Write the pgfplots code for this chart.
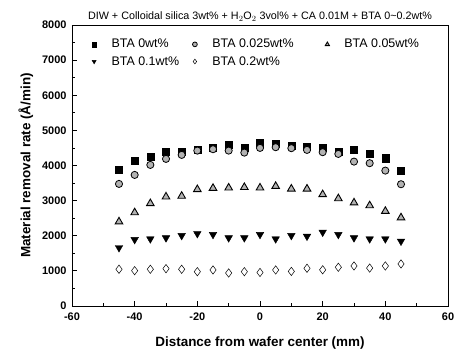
\documentclass[border=0pt]{standalone}
\usepackage{fontspec}
\setmainfont{Liberation Sans}
\usepackage{pgfplots}
\pgfplotsset{compat=1.18}
\begin{document}
\begin{tikzpicture}
\begin{axis}[
  name=ax,
  scale only axis, width=376bp, height=281bp,
  xmin=-60, xmax=60, ymin=0, ymax=8000,
  xtick={-60,-40,...,60}, minor xtick={-50,-30,...,50},
  ytick={0,1000,...,8000}, minor ytick={500,1500,...,7500},
  xtick pos=bottom, ytick pos=left, tick align=inside,
  major tick length=5pt, minor tick length=3pt,
  every tick/.style={black, line width=0.8pt},
  axis line style={line width=0.9pt},
  /pgf/number format/assume math mode=true,
  /pgf/number format/1000 sep={},
  tick label style={font=\fontsize{11}{13}\selectfont\bfseries},
  yticklabel style={xshift=-2pt},
  xticklabel style={yshift=-3pt},
  xlabel={\bfseries Distance from wafer center (mm)},
  ylabel={\bfseries Material removal rate (Å/min)},
  label style={font=\fontsize{13.5}{15}\selectfont},
  xlabel style={yshift=-10pt},
  ylabel style={yshift=2pt},
  title={DIW + Colloidal silica 3wt\% + H$_2$O$_2$ 3vol\% + CA 0.01M + BTA 0\textasciitilde0.2wt\%},
  title style={font=\fontsize{10.8}{12}\selectfont, yshift=-6pt},
  legend columns=3,
  legend style={at={(0.052,0.957)}, anchor=north west, draw=none, fill=none,
    inner sep=0pt,
    font=\fontsize{12.5}{14}\selectfont,
    /tikz/every odd column/.append style={column sep=13bp},
    row sep=3pt},
  legend cell align=left,
  legend image post style={mark size=2.4pt},
]
\addplot[only marks, mark=square*, mark size=3.6pt, black, fill=black] coordinates {
(-45,3875)(-40,4131)(-35,4254)(-30,4387)(-25,4396)(-20,4444)(-15,4501)(-10,4587)(-5,4510)(0,4644)
(5,4615)(10,4567)(15,4538)(20,4501)(25,4396)(30,4444)(35,4330)(40,4208)(45,3855)};
\addlegendentry{\makebox[79bp][l]{BTA 0wt\%}}
\addplot[only marks, mark=*, mark size=3.6pt, black, mark options={fill=gray!60, line width=0.8pt}] coordinates {
(-45,3476)(-40,3732)(-35,4017)(-30,4188)(-25,4302)(-20,4424)(-15,4464)(-10,4424)(-5,4367)(0,4501)
(5,4521)(10,4493)(15,4444)(20,4379)(25,4330)(30,4111)(35,4066)(40,3855)(45,3467)};
\addlegendentry{\makebox[111bp][l]{BTA 0.025wt\%}}
\addplot[only marks, mark=triangle*, mark size=4.4pt, black, mark options={fill=gray!60, line width=0.9pt}] coordinates {
(-45,2400)(-40,2660)(-35,2920)(-30,3110)(-25,3130)(-20,3320)(-15,3355)(-10,3365)(-5,3380)(0,3365)
(5,3410)(10,3335)(15,3335)(20,3175)(25,3060)(30,2940)(35,2860)(40,2700)(45,2515)};
\addlegendentry{BTA 0.05wt\%}
\addplot[only marks, mark=triangle*, mark size=4.4pt, black, mark options={rotate=180, fill=black}] coordinates {
(-45,1660)(-40,1890)(-35,1910)(-30,1940)(-25,2005)(-20,2060)(-15,2035)(-10,1940)(-5,1940)(0,2035)
(5,1910)(10,2005)(15,1985)(20,2100)(25,2035)(30,1940)(35,1910)(40,1910)(45,1845)};
\addlegendentry{\makebox[79bp][l]{BTA 0.1wt\%}}
\addplot[only marks, mark=diamond*, mark size=4.2pt, black, mark options={fill=white, line width=0.5pt}] coordinates {
(-45,1046)(-40,1006)(-35,1046)(-30,1063)(-25,1046)(-20,977)(-15,1026)(-10,940)(-5,977)(0,955)
(5,1026)(10,985)(15,1074)(20,1030)(25,1103)(30,1140)(35,1080)(40,1140)(45,1197)};
\addlegendentry{\makebox[111bp][l]{BTA 0.2wt\%}}
\end{axis}
\pgfresetboundingbox
\path[use as bounding box] (ax.south west) ++(-72bp,-48bp) rectangle ++(459bp,354bp);
\end{tikzpicture}
\end{document}
